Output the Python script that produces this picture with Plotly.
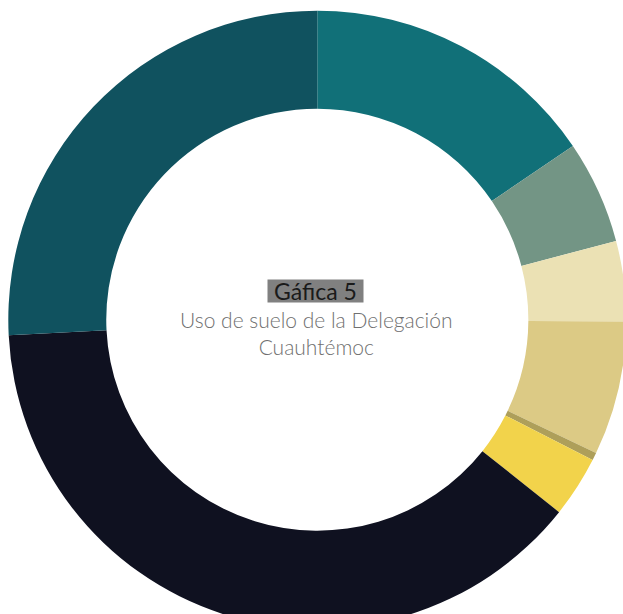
import plotly.graph_objects as go

labels = ["Habitacional", "Habitacional con comercio", "Habitacional con oficinas",
          "Habitacional mixto", "Centro de barrio", "Equipamiento",
          "Vialidades", "Espacios abiertos"]
values = [15.5, 5.4, 4.2, 7.0, 0.4, 3.2, 38.5, 25.8]
colors = ["#117078", "#739585", "#EBE1B4", "#DCCA85", "#AE9F5A", "#F2D34B", "#0F1120", "#10525F"]

title_line = "Gáfica 5"
subtitle_lines = ["Uso de suelo de la Delegación", "Cuauhtémoc"]

W, H = 640, 640
cx, cy, R = 317.3, 319.7, 309.0

fig = go.Figure(go.Pie(
    labels=labels, values=values, sort=False, direction="clockwise", rotation=0,
    hole=0.683, marker=dict(colors=colors, line=dict(width=0)),
    textinfo="none", hoverinfo="label+percent",
    domain=dict(x=[(cx - R) / W, (cx + R) / W],
                y=[(H - cy - R) / H, (H - cy + R) / H]),
))

fig.add_annotation(text=title_line, x=315.5 / W, y=1 - 291 / H, xref="paper", yref="paper",
                   showarrow=False, bgcolor="#808080", borderpad=0, width=95, height=22,
                   font=dict(family="Lato", size=23, color="#1a1a1a", weight=400))
fig.add_annotation(text="<br>".join(subtitle_lines), x=316 / W, y=1 - 332.5 / H,
                   xref="paper", yref="paper", showarrow=False,
                   font=dict(family="Lato", size=21, color="#707070", weight=300))

fig.update_layout(width=W, height=H, margin=dict(l=0, r=0, t=0, b=0),
                  showlegend=False, paper_bgcolor="white", plot_bgcolor="white")

fig.write_html("out.html",
               post_script="document.documentElement.style.overflow='hidden';document.body.style.overflow='hidden';document.body.style.margin='0';")
